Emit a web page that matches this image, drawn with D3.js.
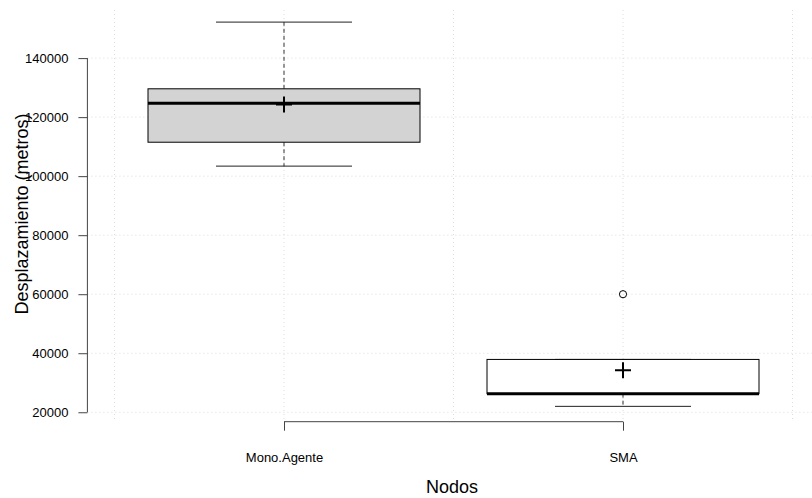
<!DOCTYPE html>
<html>
<head>
	<meta charset="utf-8">
	<script src="https://d3js.org/d3.v7.min.js"></script>
	<style>
		body { margin: 0; background: #fff; }
		text { font-family: "Liberation Sans", Arial, sans-serif; fill: #000; }
	</style>
</head>
<body>
	<script type="text/javascript">
		"use strict";

		// summary values
		var categories = ["Mono.Agente", "SMA"];
		var whiskerLow = [103400, 22000];
		var q1 = [111500, 26300];
		var median = [124700, 26300];
		var q3 = [129600, 37900];
		var whiskerHigh = [152200, 37900];
		var means = [124300, 34200];
		var outliers = [[], [60000]];
		var fills = ["#d3d3d3", "#ffffff"];
		var yTicks = [20000, 40000, 60000, 80000, 100000, 120000, 140000];
		var xGrid = [0.5, 1, 1.5, 2, 2.5];

		var width = 812, height = 498;
		var plotLeft = 87.4, plotTop = 10, plotBottom = 421.7;

		var svg = d3.select("body")
			.append("svg")
			.attr("width", width)
			.attr("height", height);

		var x = d3.scaleLinear().domain([1, 2]).range([284, 623]);
		var y = d3.scaleLinear().domain([16800, 156300]).range([plotBottom, plotTop]);
		var halfBox = 136, halfCap = 68;

		//grid
		var grid = svg.append("g")
			.attr("stroke", "#dcdcdc")
			.attr("stroke-dasharray", "1,3");
		grid.selectAll("line.h")
			.data(yTicks)
			.enter()
			.append("line")
				.attr("x1", plotLeft)
				.attr("x2", width)
				.attr("y1", function (d) { return y(d); })
				.attr("y2", function (d) { return y(d); });
		grid.selectAll("line.v")
			.data(xGrid)
			.enter()
			.append("line")
				.attr("x1", function (d) { return x(d); })
				.attr("x2", function (d) { return x(d); })
				.attr("y1", plotTop)
				.attr("y2", plotBottom);

		//boxes
		var boxes = svg.selectAll("g.box")
			.data(categories)
			.enter()
			.append("g")
			.attr("class", "box");

		boxes.each(function (c, i) {
			var g = d3.select(this), cx = x(i + 1);
			//dashed whiskers
			if (whiskerHigh[i] > q3[i]) {
				g.append("line")
					.attr("x1", cx).attr("x2", cx)
					.attr("y1", y(q3[i])).attr("y2", y(whiskerHigh[i]))
					.attr("stroke", "#333").attr("stroke-dasharray", "4,3");
			}
			g.append("line")
				.attr("x1", cx).attr("x2", cx)
				.attr("y1", y(q1[i])).attr("y2", y(whiskerLow[i]))
				.attr("stroke", "#333").attr("stroke-dasharray", "4,3");
			//caps
			[whiskerLow[i], whiskerHigh[i]].forEach(function (v) {
				g.append("line")
					.attr("x1", cx - halfCap).attr("x2", cx + halfCap)
					.attr("y1", y(v)).attr("y2", y(v))
					.attr("stroke", "#222");
			});
			g.append("rect")
				.attr("x", cx - halfBox)
				.attr("width", halfBox * 2)
				.attr("y", y(q3[i]))
				.attr("height", y(q1[i]) - y(q3[i]))
				.attr("fill", fills[i])
				.attr("stroke", "#000");
			g.append("line")
				.attr("x1", cx - halfBox).attr("x2", cx + halfBox)
				.attr("y1", y(median[i])).attr("y2", y(median[i]))
				.attr("stroke", "#000").attr("stroke-width", 3);
			//mean cross
			var my = y(means[i]);
			g.append("path")
				.attr("d", "M" + (cx - 8) + "," + my + "H" + (cx + 8) + "M" + cx + "," + (my - 8) + "V" + (my + 8))
				.attr("stroke", "#000").attr("stroke-width", 2);
			g.selectAll("circle")
				.data(outliers[i])
				.enter()
				.append("circle")
					.attr("cx", cx)
					.attr("cy", function (d) { return y(d); })
					.attr("r", 3.6)
					.attr("fill", "none")
					.attr("stroke", "#000");
		});

		//y axis
		var yAxis = svg.append("g")
			.attr("transform", "translate(" + plotLeft + ",0)")
			.call(d3.axisLeft(y).tickValues(yTicks).tickSize(9).tickPadding(10).tickFormat(d3.format("d")));
		yAxis.select(".domain").attr("d", "M0," + y(20000) + "V" + y(140000)).attr("stroke", "#444");
		yAxis.selectAll(".tick line").attr("stroke", "#444");
		yAxis.selectAll(".tick text").attr("font-size", 13).attr("fill", "#000").attr("font-family", null);

		//x axis
		var xAxis = svg.append("g")
			.attr("transform", "translate(0," + plotBottom + ")")
			.call(d3.axisBottom(x).tickValues([1, 2]).tickSize(9).tickPadding(22)
				.tickFormat(function (d) { return categories[d - 1]; }));
		xAxis.select(".domain").attr("d", "M" + x(1) + ",0H" + x(2)).attr("stroke", "#444");
		xAxis.selectAll(".tick line").attr("stroke", "#444");
		xAxis.selectAll(".tick text").attr("font-size", 13).attr("fill", "#000").attr("font-family", null);

		//titles
		svg.append("text")
			.attr("x", 452)
			.attr("y", 493)
			.attr("text-anchor", "middle")
			.attr("font-size", 18)
			.text("Nodos");
		svg.append("text")
			.attr("transform", "translate(27.5,214) rotate(-90)")
			.attr("text-anchor", "middle")
			.attr("font-size", 18)
			.text("Desplazamiento (metros)");
	</script>
</body>
</html>
